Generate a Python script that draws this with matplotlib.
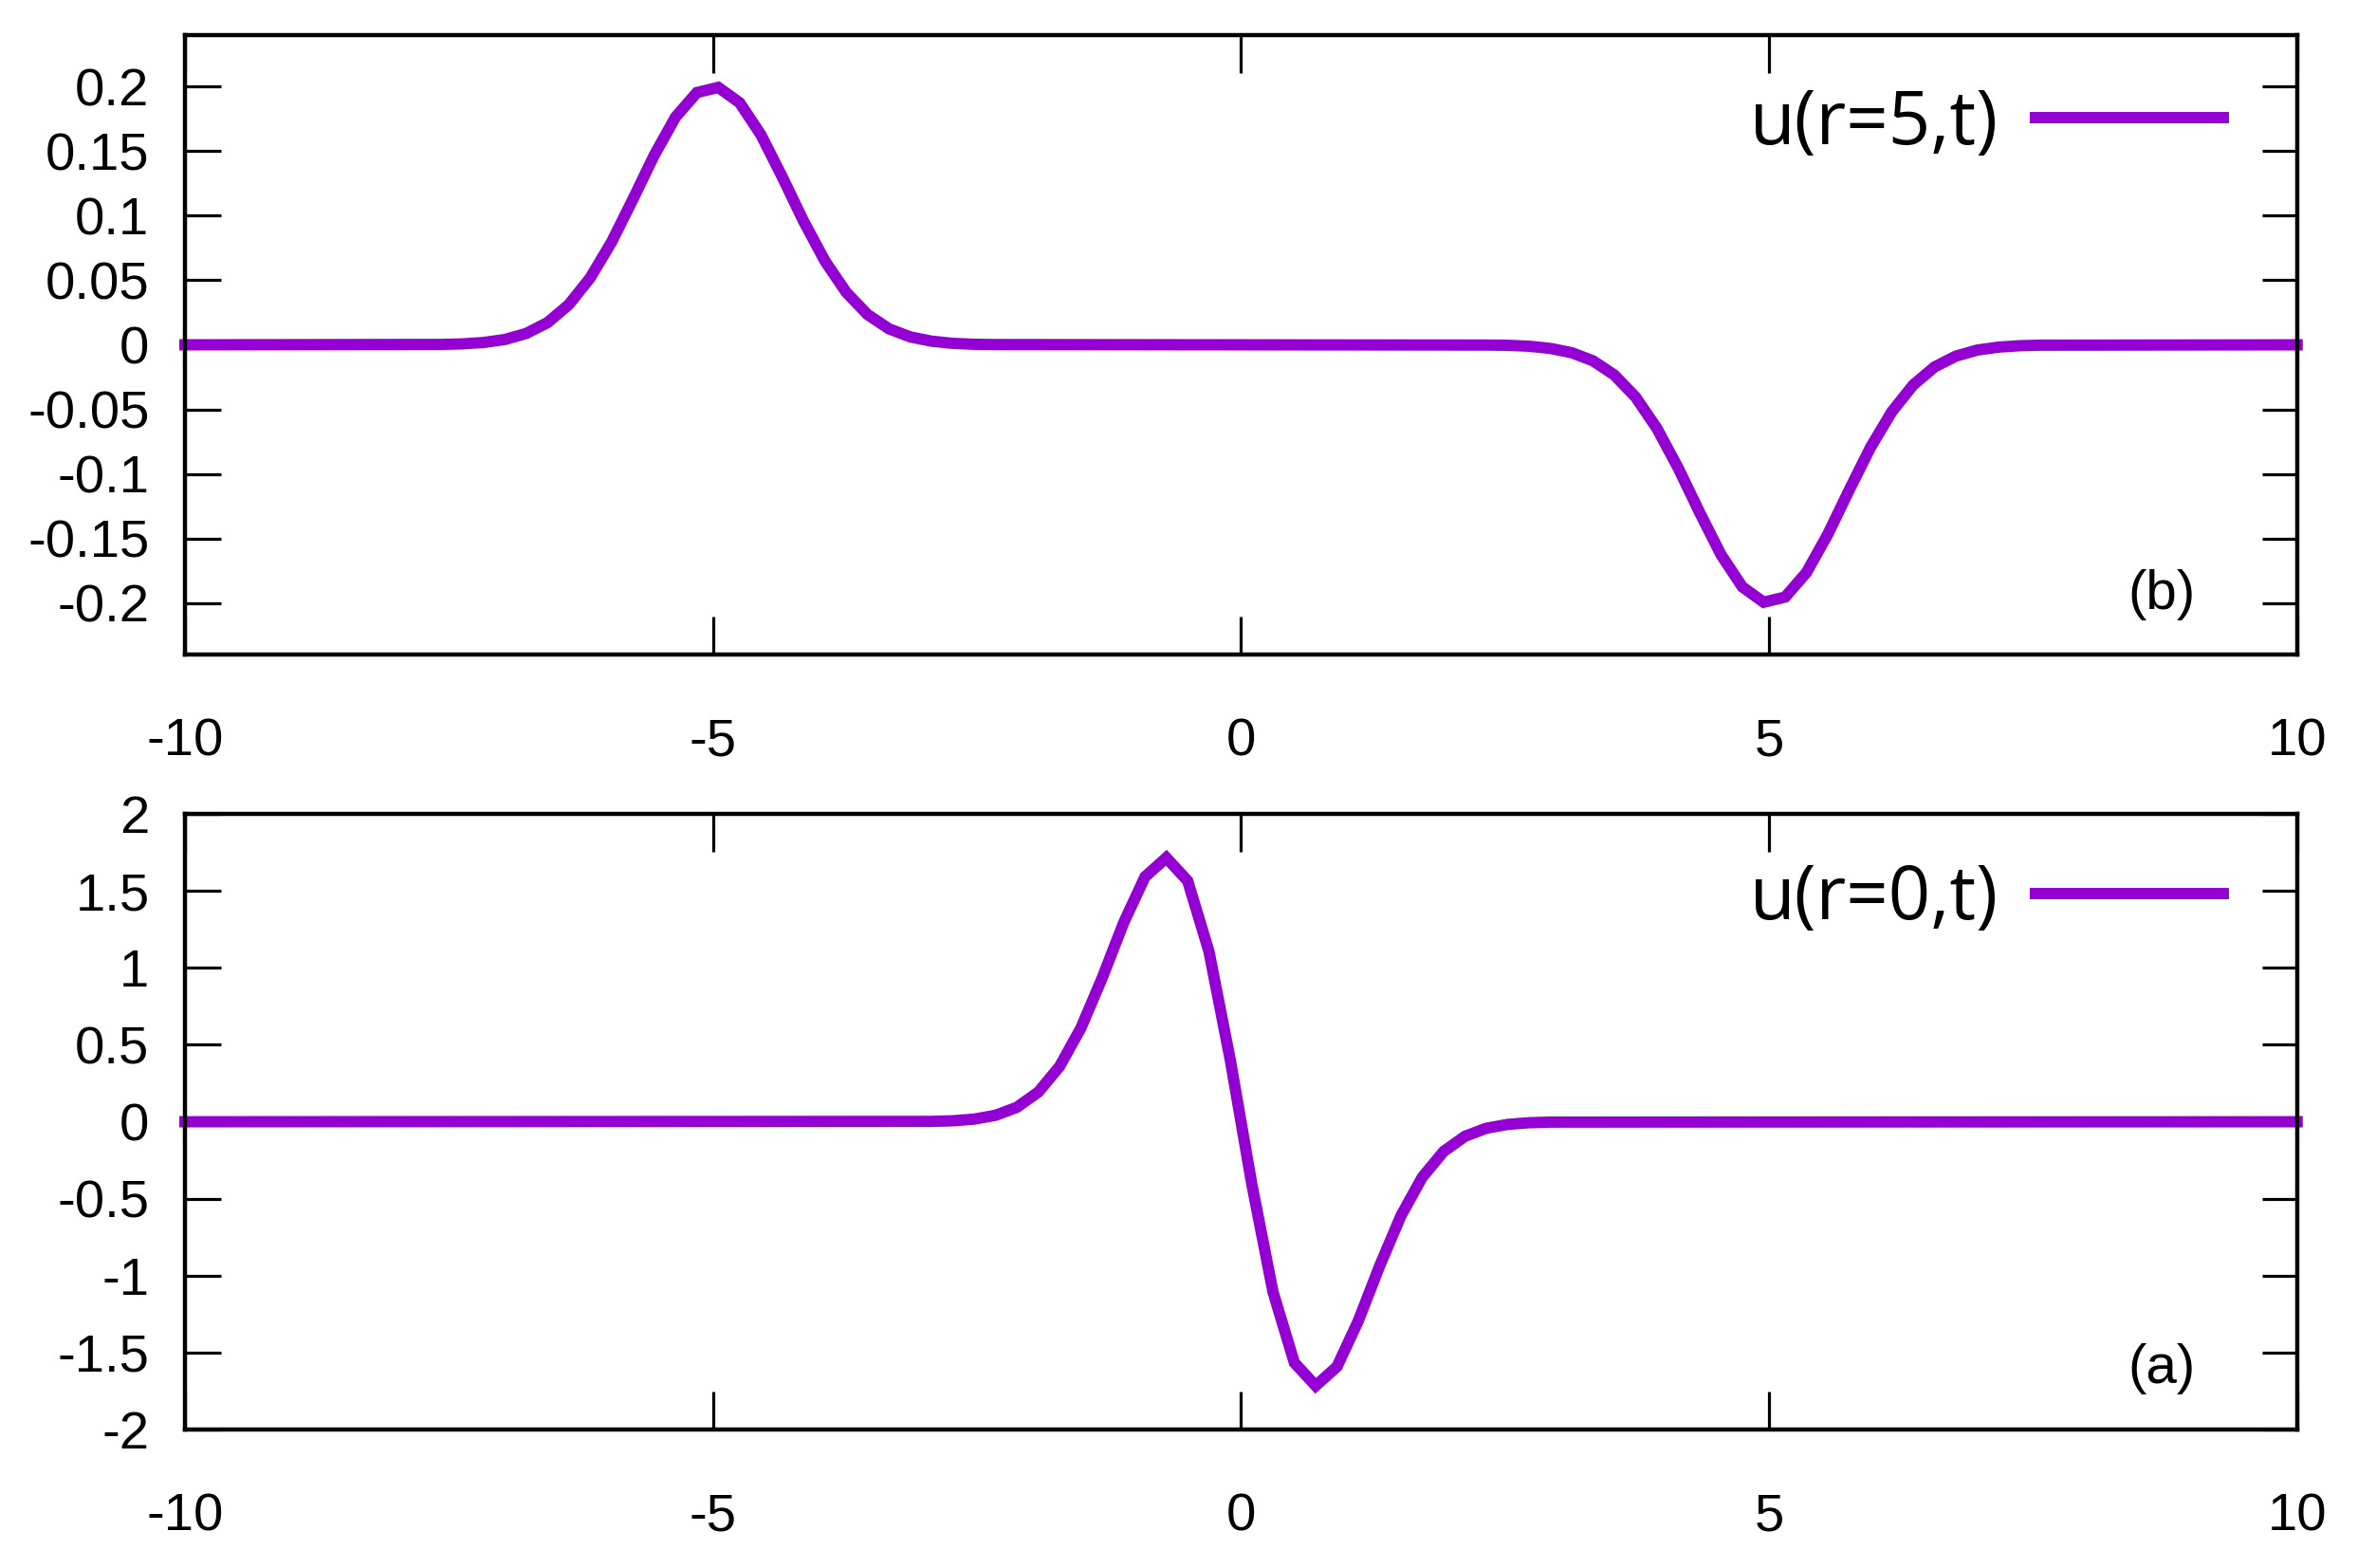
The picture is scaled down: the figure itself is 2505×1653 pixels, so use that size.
import matplotlib
matplotlib.use("Agg")
import matplotlib.pyplot as plt

# sampled curves (gnuplot-style 100 samples, only the non-flat part kept)
t_r5 = [-10.0, -7.576, -7.374, -7.172, -6.970, -6.768, -6.566, -6.364, -6.162, -5.960,
        -5.758, -5.556, -5.354, -5.152, -4.949, -4.747, -4.545, -4.343, -4.141, -3.939,
        -3.737, -3.535, -3.333, -3.131, -2.929, -2.727, -2.525, -2.323,
        2.323, 2.525, 2.727, 2.929, 3.131, 3.333, 3.535, 3.737, 3.939, 4.141,
        4.343, 4.545, 4.747, 4.949, 5.152, 5.354, 5.556, 5.758, 5.960, 6.162,
        6.364, 6.566, 6.768, 6.970, 7.172, 7.374, 7.576, 10.0]
u_r5 = [0.0, 0.0003, 0.0007, 0.0018, 0.0041, 0.0088, 0.0172, 0.0312, 0.0519, 0.0796,
        0.1127, 0.1469, 0.1765, 0.1955, 0.1995, 0.1876, 0.1627, 0.1300, 0.0957, 0.0649,
        0.0406, 0.0234, 0.0124, 0.0061, 0.0028, 0.0011, 0.0004, 0.0002,
        -0.0002, -0.0004, -0.0011, -0.0028, -0.0061, -0.0124, -0.0234, -0.0406, -0.0649, -0.0957,
        -0.1300, -0.1627, -0.1876, -0.1995, -0.1955, -0.1765, -0.1469, -0.1127, -0.0796, -0.0519,
        -0.0312, -0.0172, -0.0088, -0.0041, -0.0018, -0.0007, -0.0003, 0.0]

t_r0 = [-10.0, -2.929, -2.727, -2.525, -2.323, -2.121, -1.919, -1.717, -1.515, -1.313,
        -1.111, -0.909, -0.707, -0.505, -0.303, -0.101, 0.101, 0.303, 0.505, 0.707,
        0.909, 1.111, 1.313, 1.515, 1.717, 1.919, 2.121, 2.323, 2.525, 2.727, 2.929, 10.0]
u_r0 = [0.0, 0.0022, 0.0064, 0.0172, 0.0421, 0.0943, 0.1930, 0.3599, 0.6102, 0.9365,
        1.2931, 1.5913, 1.7155, 1.5653, 1.1058, 0.3999, -0.3999, -1.1058, -1.5653, -1.7155,
        -1.5913, -1.2931, -0.9365, -0.6102, -0.3599, -0.1930, -0.0943, -0.0421, -0.0172, -0.0064,
        -0.0022, 0.0]

x_ticks = [-10, -5, 0, 5, 10]
x_labels = ["-10", "-5", "0", "5", "10"]
y_ticks_top = [0.2, 0.15, 0.1, 0.05, 0, -0.05, -0.1, -0.15, -0.2]
y_labels_top = ["0.2", "0.15", "0.1", "0.05", "0", "-0.05", "-0.1", "-0.15", "-0.2"]
y_ticks_bot = [2, 1.5, 1, 0.5, 0, -0.5, -1, -1.5, -2]
y_labels_bot = ["2", "1.5", "1", "0.5", "0", "-0.5", "-1", "-1.5", "-2"]

purple = "#9400d3"
tick_font = "Liberation Sans"

fig = plt.figure(figsize=(25.05, 16.53), dpi=100)
ax_top = fig.add_axes([0.0778, 0.5826, 0.8890, 0.3950])
ax_bot = fig.add_axes([0.0778, 0.0883, 0.8890, 0.3926])

panels = [
    (ax_top, t_r5, u_r5, "u(r=5,t)", (-0.24, 0.24), y_ticks_top, y_labels_top, "(b)", 0.0965, 0.856),
    (ax_bot, t_r0, u_r0, "u(r=0,t)", (-2, 2), y_ticks_bot, y_labels_bot, "(a)", 0.0986, 0.860),
]

for ax, t, u, lab, ylim, yt, yl, tag, tag_y, leg_y in panels:
    ax.plot(t, u, color=purple, lw=8.6, label=lab, clip_on=False, solid_joinstyle="miter")
    ax.set_xlim(-10, 10)
    ax.set_ylim(*ylim)
    ax.set_xticks(x_ticks)
    ax.set_xticklabels(x_labels, fontname=tick_font, fontsize=40.5)
    ax.set_yticks(yt)
    ax.set_yticklabels(yl, fontname=tick_font, fontsize=40.5)
    ax.tick_params(axis="x", direction="in", length=29, width=2.3, pad=48,
                   top=True, bottom=True)
    ax.tick_params(axis="y", direction="in", length=27, width=2.3, pad=27,
                   left=True, right=True)
    for s in ax.spines.values():
        s.set_linewidth(3.2)
    ax.text(0.936, tag_y, tag, transform=ax.transAxes, ha="center", va="center",
            fontname=tick_font, fontsize=42)
    ax.legend(loc="center right", bbox_to_anchor=(0.965, leg_y), frameon=False,
              markerfirst=False, handlelength=2.55, handletextpad=0.5,
              borderpad=0, borderaxespad=0,
              prop={"family": "Open Sans", "size": 56})

fig.savefig("out.png", dpi=100)
